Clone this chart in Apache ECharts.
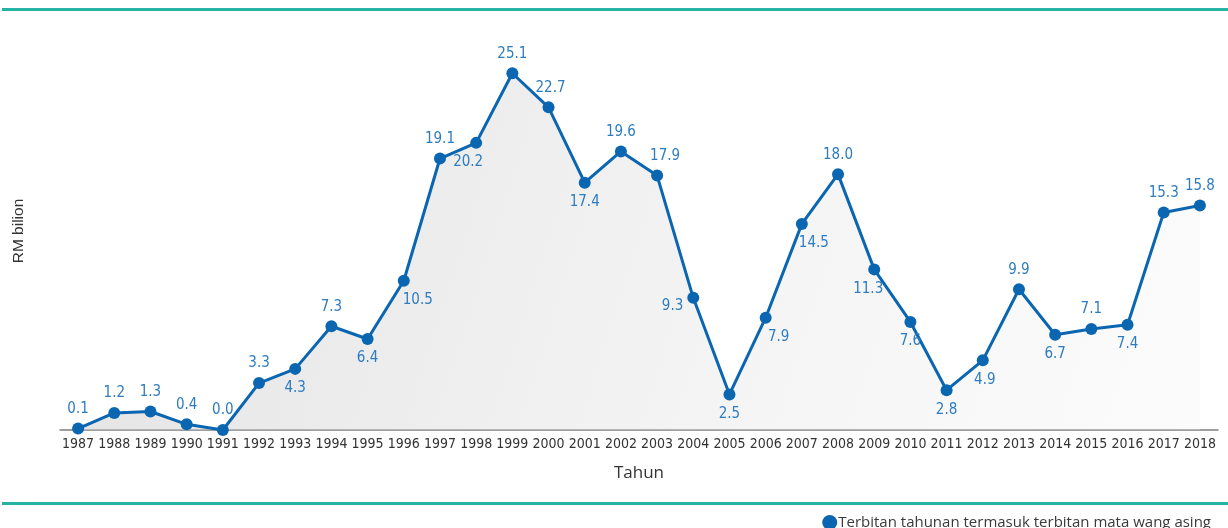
<!DOCTYPE html>
<html>
<head>
<meta charset="utf-8">
<script src="https://cdn.jsdelivr.net/npm/echarts@6/dist/echarts.min.js"></script>
<style>
  html, body { margin: 0; padding: 0; background: #fff; }
  #chart { width: 1228px; height: 528px; }
</style>
</head>
<body>
<div id="chart"></div>
<script>
// tahun dan nilai terbitan (RM bilion)
var years = ['1987','1988','1989','1990','1991','1992','1993','1994','1995','1996','1997',
  '1998','1999','2000','2001','2002','2003','2004','2005','2006','2007','2008','2009',
  '2010','2011','2012','2013','2014','2015','2016','2017','2018'];
var values = [0.1, 1.2, 1.3, 0.4, 0.0, 3.3, 4.3, 7.3, 6.4, 10.5, 19.1,
  20.2, 25.1, 22.7, 17.4, 19.6, 17.9, 9.3, 2.5, 7.9, 14.5, 18.0, 11.3,
  7.6, 2.8, 4.9, 9.9, 6.7, 7.1, 7.4, 15.3, 15.8];
var seriesName = 'Terbitan tahunan termasuk terbitan mata wang asing';

// letak label untuk setiap titik
var labelPlace = {
  '1993': ['bottom', [0, 0]],
  '1995': ['bottom', [0, 0]],
  '1996': ['bottom', [14, 0]],
  '1998': ['bottom', [-8, 0]],
  '2000': ['top', [2, 0]],
  '2001': ['bottom', [0, 0]],
  '2003': ['top', [8, 0]],
  '2004': ['left', [2, 8]],
  '2005': ['bottom', [0, 0]],
  '2006': ['bottom', [13, 0]],
  '2007': ['bottom', [12, 0]],
  '2009': ['bottom', [-6, 0]],
  '2010': ['bottom', [0, 0]],
  '2011': ['bottom', [0, 0]],
  '2012': ['bottom', [2, 0]],
  '2014': ['bottom', [0, 0]],
  '2016': ['bottom', [0, 0]]
};

var seriesData = [];
for (var i = 0; i < values.length; i++) {
  var p = labelPlace[years[i]] || ['top', [0, 0]];
  seriesData.push({
    value: values[i],
    label: { position: p[0], offset: p[1] }
  });
}

var labelFont = '"Liberation Sans Narrow", "DejaVu Sans Condensed", "Roboto", sans-serif';

var option = {
  animation: false,
  backgroundColor: '#fff',
  grid: { left: 60, right: 10, top: 32, bottom: 98 },
  graphic: [
    { type: 'rect', shape: { x: 2, y: 8, width: 1226, height: 3 }, style: { fill: '#25b3a3' } },
    { type: 'rect', shape: { x: 2, y: 502, width: 1226, height: 3 }, style: { fill: '#25b3a3' } }
  ],
  legend: {
    data: [seriesName],
    right: 12,
    top: 510,
    icon: 'circle',
    itemWidth: 15,
    itemHeight: 15,
    textStyle: { color: '#3a3a3a', fontSize: 15, fontFamily: '"Open Sans", "Noto Sans", sans-serif', padding: [0, 0, 0, -4] }
  },
  xAxis: {
    type: 'category',
    data: years,
    boundaryGap: true,
    name: 'Tahun',
    nameLocation: 'middle',
    nameGap: 35,
    nameTextStyle: { color: '#333', fontSize: 17, fontFamily: '"Open Sans", "Noto Sans", sans-serif' },
    axisLine: { lineStyle: { color: '#7f7f7f', width: 1.5 } },
    axisTick: { show: false },
    axisLabel: { color: '#333', fontSize: 14, margin: 7, interval: 0, fontFamily: labelFont }
  },
  yAxis: {
    type: 'value',
    min: 0,
    max: 28,
    name: 'RM bilion',
    nameLocation: 'middle',
    nameGap: 33,
    nameTextStyle: { color: '#333', fontSize: 15.5, fontFamily: '"Liberation Sans", Arial, sans-serif' },
    axisLine: { show: false },
    axisTick: { show: false },
    axisLabel: { show: false },
    splitLine: { show: false }
  },
  series: [{
    name: seriesName,
    type: 'line',
    data: seriesData,
    symbol: 'circle',
    symbolSize: 12,
    itemStyle: { color: '#0b66b1' },
    lineStyle: { color: '#0b66b1', width: 3 },
    areaStyle: {
      color: new echarts.graphic.LinearGradient(0, 0, 1, 1, [
        { offset: 0, color: 'rgba(200,200,200,0.75)' },
        { offset: 1, color: 'rgba(240,240,240,0.35)' }
      ])
    },
    label: {
      show: true,
      color: '#2d7cc0',
      fontSize: 15,
      fontFamily: labelFont,
      distance: 6,
      formatter: function (p) { return p.value.toFixed(1); }
    }
  }]
};

var myChart = echarts.init(document.getElementById('chart'));
myChart.setOption(option);
</script>
</body>
</html>
